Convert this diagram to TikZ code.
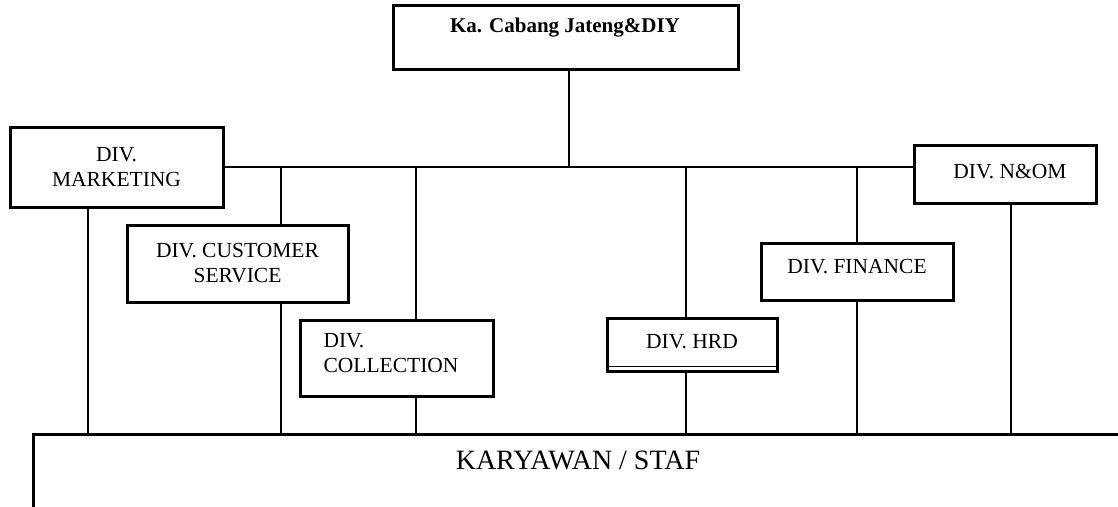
\documentclass[tikz,border=0pt]{standalone}
\usepackage{fontspec}
\setmainfont{Liberation Serif}
\begin{document}
\begin{tikzpicture}[x=1pt,y=-1pt,
  box/.style={draw,line width=3pt,inner sep=0pt},
  conn/.style={line width=2pt},
  lbl/.style={font=\fontsize{21.5}{25}\selectfont,align=center}]
\useasboundingbox (0,0) rectangle (1118,506);
\fill[white] (0,0) rectangle (1118,506);

% boxes
\node[box,minimum width=345pt,minimum height=64pt] (ka) at (565.5,37) {};
\node[font=\bfseries\fontsize{21}{25}\selectfont] (kat) at (565,28) {Ka. Cabang Jateng\&DIY};

\node[box,lbl,minimum width=213pt,minimum height=80pt] (mkt) at (116.5,167) {DIV.\\MARKETING};
\node[box,lbl,minimum width=221pt,minimum height=77pt] (cs) at (237.5,263.5) {DIV. CUSTOMER\\SERVICE};

\node[box,minimum width=193pt,minimum height=76pt] (col) at (396.5,358) {};
\node[lbl,align=left,anchor=west] (colt) at (320,353) {DIV.\\COLLECTION};

\node[box,minimum width=170pt,minimum height=53pt] (hrd) at (692,344.5) {};
\node[lbl] (hrdt) at (692,342) {DIV. HRD};
\draw[line width=1.4pt] ([yshift=6pt]hrd.south west) -- ([yshift=6pt]hrd.south east);

\node[box,minimum width=192pt,minimum height=57pt] (fin) at (857,271.5) {};
\node[lbl] (fint) at (857,267) {DIV. FINANCE};

\node[box,minimum width=182pt,minimum height=58pt] (nom) at (1005,174) {};
\node[lbl] (nomt) at (1010,172) {DIV. N\&OM};

\node[box,anchor=north west,minimum width=1110pt,minimum height=110pt] (staf) at (32,433) {};
\node[font=\fontsize{28}{32}\selectfont] (staft) at (578,460) {KARYAWAN / STAF};

% bus
\coordinate (bj) at (569,167);
\coordinate (b1) at (281,167);
\coordinate (b2) at (416,167);
\coordinate (b3) at (686,167);
\coordinate (b4) at (857,167);
\draw[conn] (ka.south -| bj) -- (bj);
\draw[conn] (mkt.east) -- (nom.west |- mkt.east);

% verticals
\draw[conn] ([xshift=-28.5pt]mkt.south) -- ([xshift=-28.5pt]mkt.south |- staf.north);
\draw[conn] (b1) -- (cs.north -| b1);
\draw[conn] (cs.south -| b1) -- (staf.north -| b1);
\draw[conn] (b2) -- (col.north -| b2);
\draw[conn] (col.south -| b2) -- (staf.north -| b2);
\draw[conn] (b3) -- (hrd.north -| b3);
\draw[conn] (hrd.south -| b3) -- (staf.north -| b3);
\draw[conn] (b4) -- (fin.north -| b4);
\draw[conn] (fin.south -| b4) -- (staf.north -| b4);
\draw[conn] ([xshift=6pt]nom.south) -- ([xshift=6pt]nom.south |- staf.north);
\end{tikzpicture}
\end{document}
